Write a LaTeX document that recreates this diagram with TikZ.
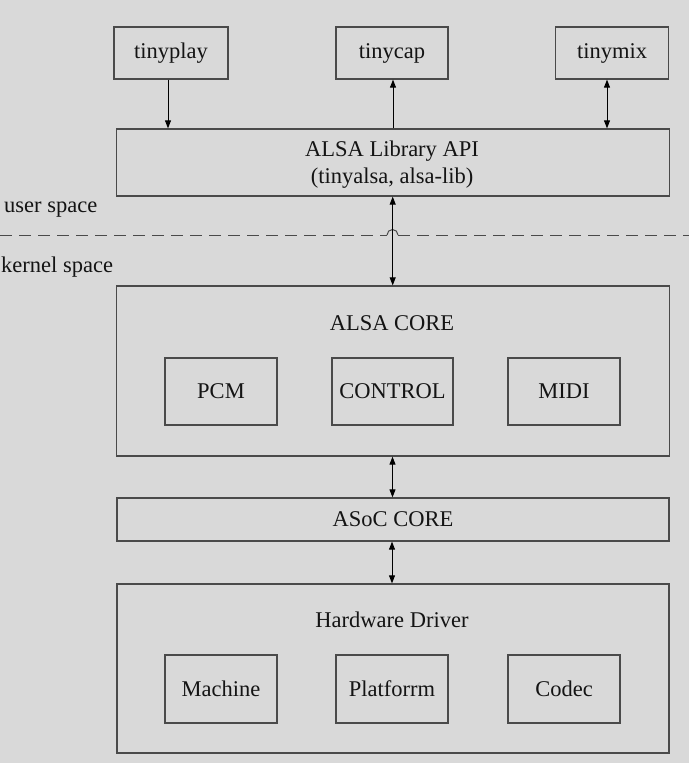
\documentclass[tikz,border=0pt]{standalone}
\usepackage{fontspec}
\setmainfont{Liberation Serif}
\usetikzlibrary{arrows.meta}
\definecolor{bg}{HTML}{D9D9D9}
\definecolor{boxline}{HTML}{4A4A4A}
\definecolor{txt}{HTML}{141414}
\tikzset{
  box/.style={draw=boxline, line width=1.3pt, inner sep=0pt, text=txt,
    font=\fontsize{22.5}{26}\selectfont},
  lbl/.style={inner sep=0pt, text=txt, font=\fontsize{22.5}{26}\selectfont},
  conn/.style={line width=0.9pt, black, {Triangle[length=8pt,width=6pt]}-{Triangle[length=8pt,width=6pt]}},
  down/.style={line width=0.9pt, black, -{Triangle[length=8pt,width=6pt]}},
  sep/.style={line width=1pt, boxline, dash pattern=on 12pt off 7pt}
}
\begin{document}
\begin{tikzpicture}[x=1pt,y=-1pt]
\fill[bg] (0,0) rectangle (689,763);
\useasboundingbox (0,0) rectangle (689,763);
% top apps
\node[box, minimum width=114pt, minimum height=52pt] (tinyplay) at (171,53) {tinyplay};
\node[box, minimum width=112pt, minimum height=52pt] (tinycap) at (392,53) {tinycap};
\node[box, minimum width=113pt, minimum height=52pt] (tinymix) at (612,53) {tinymix};
% library
\node[box, minimum width=553pt, minimum height=67pt] (lib) at (393,162.5) {};
\node[lbl] (libt1) at (392,151.5) {ALSA Library API};
\node[lbl] (libt2) at (392,178) {(tinyalsa, alsa-lib)};
% alsa core
\node[box, minimum width=553pt, minimum height=170pt] (core) at (393,371) {};
\node[lbl] (coret) at (392,323) {ALSA CORE};
\node[box, minimum width=112pt, minimum height=67pt] (pcm) at (221,391.5) {PCM};
\node[box, minimum width=121pt, minimum height=67pt] (control) at (392.5,391.5) {CONTROL};
\node[box, minimum width=112pt, minimum height=67pt] (midi) at (564,391.5) {MIDI};
% asoc
\node[box, minimum width=552pt, minimum height=43pt] (asoc) at (393,519.5) {ASoC CORE};
% hardware driver
\node[box, minimum width=552pt, minimum height=169pt] (hw) at (393,668.5) {};
\node[lbl] (hwt) at (392,620) {Hardware Driver};
\node[box, minimum width=112pt, minimum height=68pt] (machine) at (221,689) {Machine};
\node[box, minimum width=112pt, minimum height=68pt] (platforrm) at (392,689) {Platforrm};
\node[box, minimum width=112pt, minimum height=68pt] (codec) at (564,689) {Codec};
% space labels
\node[lbl, anchor=west] (user) at (4,210) {user space};
\node[lbl, anchor=west] (kernel) at (1,267) {kernel space};
% separator with hop
\coordinate (sepL) at (0,235);
\coordinate (sepR) at (689,235);
\coordinate (hopL) at (387,235);
\coordinate (hopR) at (398,235);
\draw[sep] (sepL) -- (hopL);
\draw[line width=1pt, boxline] (hopL) arc[start angle=180, end angle=0, radius=5.5pt];
\draw[sep] (hopR) -- (sepR);
% connectors
\draw[down] (tinyplay.south -| 168,0) -- (lib.north -| 168,0);
\draw[down] (lib.north -| 393,0) -- (tinycap.south -| 393,0);
\draw[conn] (tinymix.south -| 607,0) -- (lib.north -| 607,0);
\draw[conn] (lib.south -| 392.7,0) -- (core.north -| 392.7,0);
\draw[conn] (core.south -| 392.5,0) -- (asoc.north -| 392.5,0);
\draw[conn] (asoc.south -| 392,0) -- (hw.north -| 392,0);
\end{tikzpicture}
\end{document}
